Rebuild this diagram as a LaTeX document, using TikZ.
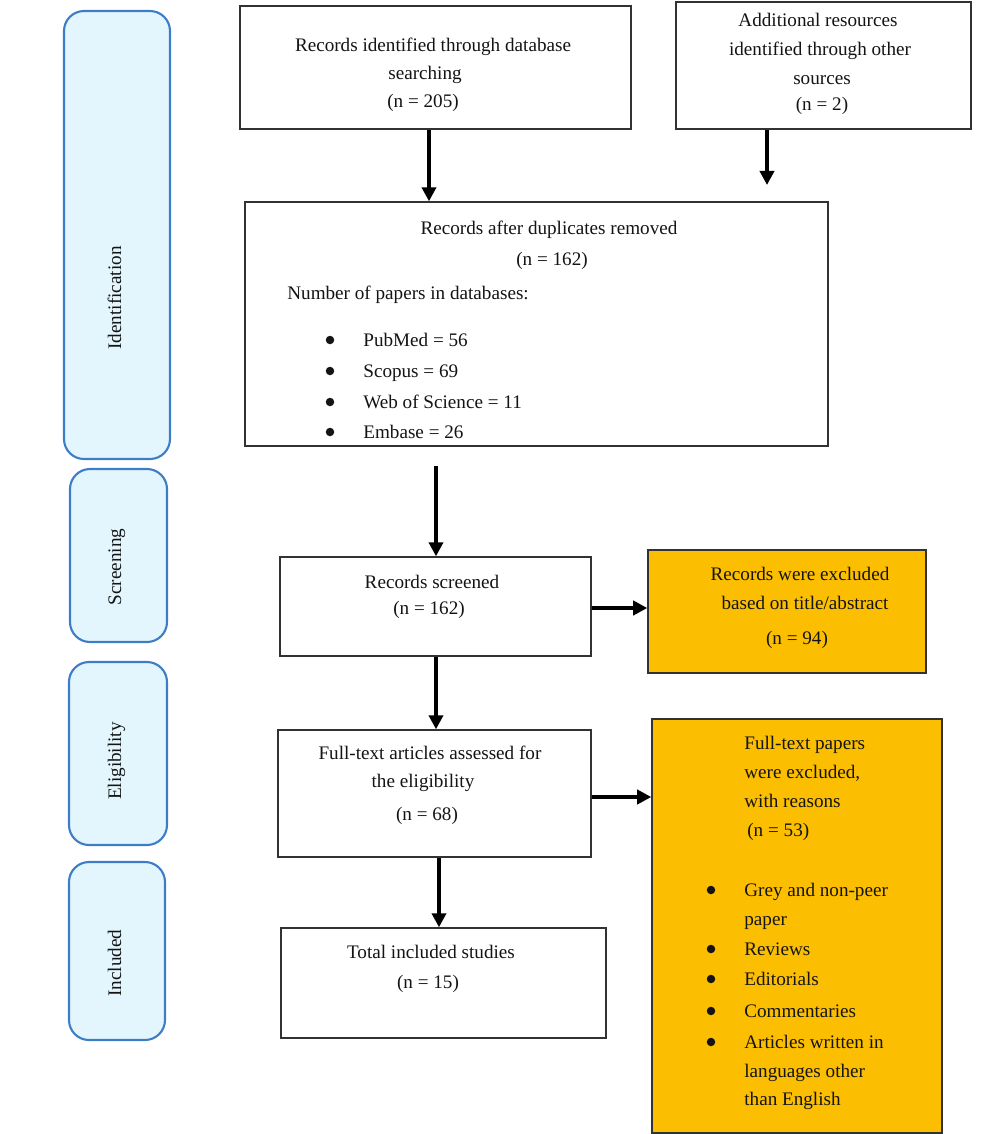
\documentclass[tikz,border=0pt]{standalone}
\usepackage{fontspec}
\setmainfont{Liberation Serif}
\usetikzlibrary{fit,arrows.meta}
\definecolor{exclfill}{RGB}{252,190,0}
\definecolor{phasefill}{RGB}{227,246,253}
\definecolor{phaseline}{RGB}{61,124,198}
\definecolor{boxline}{RGB}{50,50,50}
\definecolor{ink}{RGB}{20,20,20}
\begin{document}
\begin{tikzpicture}[x=0.02cm,y=-0.02cm,
  box/.style={draw=boxline, line width=0.8pt, fill=white, inner sep=0pt},
  exbox/.style={box, fill=exclfill},
  phase/.style={draw=phaseline, fill=phasefill, line width=1.2pt, rounded corners=0.4cm, inner sep=0pt},
  txt/.style={font=\fontsize{10.9}{13}\selectfont, inner sep=0pt, text=ink},
  ln/.style={txt, anchor=mid, yshift=-1.2pt},
  lw/.style={txt, anchor=mid west, yshift=-1.2pt},
  phtxt/.style={txt, rotate=90, anchor=mid},
  dot/.style={circle, fill=ink, inner sep=0pt, minimum size=0.17cm},
  arr/.style={line width=2pt, draw=black, -{Triangle[length=8pt,width=8pt]}},
]
\useasboundingbox (0,0) rectangle (1000,1134);

% phase labels
\node[phase, fit={(64,11)(170,459)}] (pid) {};
\node[phase, fit={(70,469)(167,642)}] (psc) {};
\node[phase, fit={(69,662)(167,845)}] (pel) {};
\node[phase, fit={(69,862)(165,1040)}] (pin) {};
\node[phtxt] (tid) at (117,298) {Identification};
\node[phtxt] (tsc) at (117,567) {Screening};
\node[phtxt] (tel) at (117,761) {Eligibility};
\node[phtxt] (tin) at (117,963) {Included};

% main boxes
\node[box, fit={(240,6)(631,129)}] (b1) {};
\node[box, fit={(676,2)(971,129)}] (b2) {};
\node[box, fit={(245,202)(828,446)}] (b3) {};
\node[box, fit={(280,557)(591,656)}] (b4) {};
\node[box, fit={(278,730)(591,857)}] (b5) {};
\node[box, fit={(281,928)(606,1038)}] (b6) {};
\node[exbox, fit={(648,550)(926,673)}] (ex1) {};
\node[exbox, fit={(652,719)(942,1133)}] (ex2) {};

% box 1
\node[ln] (t1a) at (433,45) {Records identified through database};
\node[ln] (t1b) at (425,73) {searching};
\node[ln] (t1c) at (423,101) {(n = 205)};
% box 2
\node[ln] (t2a) at (818,20) {Additional resources};
\node[ln] (t2b) at (820,49) {identified through other};
\node[ln] (t2c) at (822,78) {sources};
\node[ln] (t2d) at (822,104) {(n = 2)};
% box 3
\node[ln] (t3a) at (549,228) {Records after duplicates removed};
\node[ln] (t3b) at (552,259) {(n = 162)};
\node[lw] (t3c) at (287,293) {Number of papers in databases:};
\foreach \y/\t [count=\i] in {340/PubMed = 56, 371/Scopus = 69, 402/Web of Science = 11, 432/Embase = 26}{
  \node[dot] (d3\i) at (330,\y) {};
  \node[lw] (i3\i) at (363,\y) {\t};
}
% box 4
\node[ln] (t4a) at (432,582) {Records screened};
\node[ln] (t4b) at (429,608) {(n = 162)};
% excluded 1
\node[ln] (e1a) at (800,574) {Records were excluded};
\node[ln] (e1b) at (805,603) {based on title/abstract};
\node[ln] (e1c) at (797,638) {(n = 94)};
% box 5
\node[ln] (t5a) at (430,753) {Full-text articles assessed for};
\node[ln] (t5b) at (423,781) {the eligibility};
\node[ln] (t5c) at (427,814) {(n = 68)};
% box 6
\node[ln] (t6a) at (431,952) {Total included studies};
\node[ln] (t6b) at (428,982) {(n = 15)};
% excluded 2
\node[lw] (e2a) at (744,743) {Full-text papers};
\node[lw] (e2b) at (744,772) {were excluded,};
\node[lw] (e2c) at (744,801) {with reasons};
\node[lw] (e2d) at (747,830) {(n = 53)};
\foreach \y/\t [count=\i] in {890/Grey and non-peer, 919/paper, 949/Reviews, 979/Editorials, 1011/Commentaries, 1042/Articles written in, 1071/languages other, 1099/than English}{
  \node[lw] (i2\i) at (744,\y) {\t};
}
\foreach \y [count=\i] in {890, 949, 979, 1011, 1042}{
  \node[dot] (d2\i) at (711,\y) {};
}

% connectors
\coordinate (b2end) at (767,185);
\draw[arr] (b1.south -| 429,0) -- (b3.north -| 429,0);
\draw[arr] (b2.south -| b2end) -- (b2end);
\draw[arr, shorten <=0.38cm] (b3.south -| 436,0) -- (b4.north -| 436,0);
\draw[arr] (b4.south -| 436,0) -- (b5.north -| 436,0);
\draw[arr] (b5.south -| 439,0) -- (b6.north -| 439,0);
\draw[arr] (b4.east |- 0,608) -- (ex1.west |- 0,608);
\draw[arr] (b5.east |- 0,797) -- (ex2.west |- 0,797);
\end{tikzpicture}
\end{document}
